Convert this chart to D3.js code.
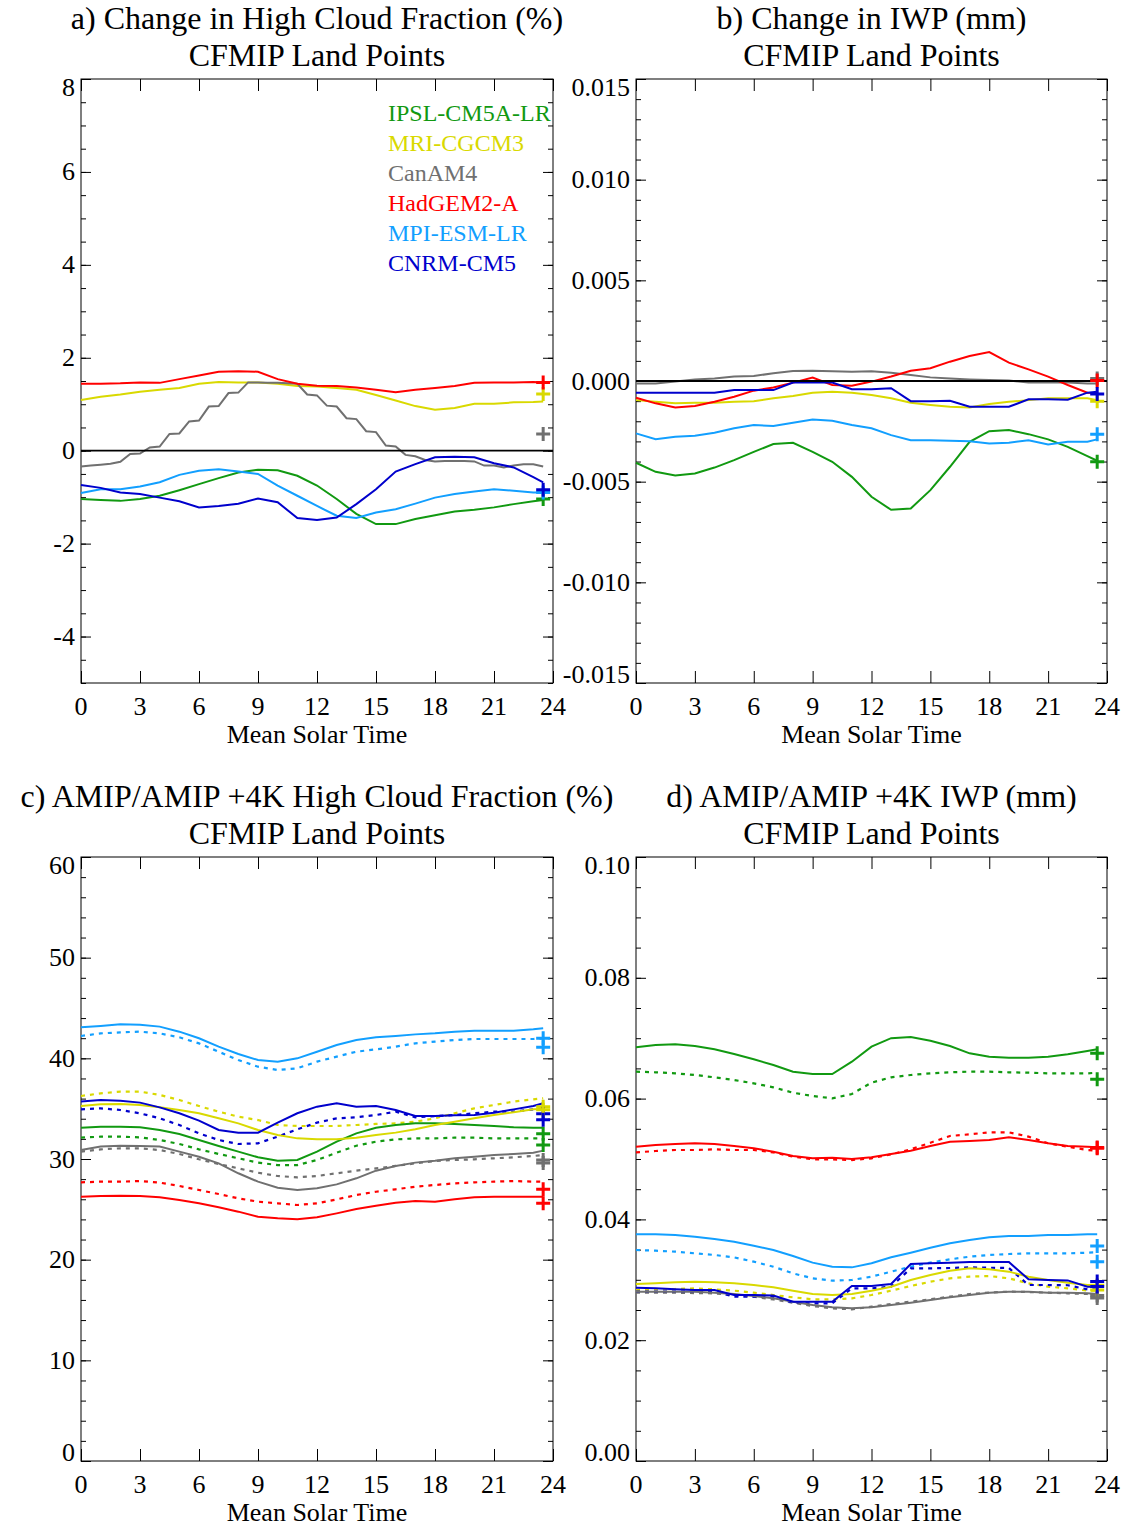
<!DOCTYPE html>
<html>
<head>
<meta charset="utf-8">
<script src="https://cdn.jsdelivr.net/npm/d3@7"></script>
<style>
  html, body { margin: 0; padding: 0; background: #fff; }
  svg { display: block; }
  text { font-family: "Liberation Serif", "Times New Roman", serif; }
</style>
</head>
<body>
<svg id="chart" width="1127" height="1528"></svg>
<script>
// ---------------- DATA ----------------
const models = ["IPSL-CM5A-LR", "MRI-CGCM3", "CanAM4", "HadGEM2-A", "MPI-ESM-LR", "CNRM-CM5"];
const modelColors = ["#119911", "#d9d900", "#707070", "#ff0000", "#129fff", "#0000cc"];

const hours = [0,1,2,3,4,5,6,7,8,9,10,11,12,13,14,15,16,17,18,19,20,21,22,23,23.5];
const halfHours = [0,0.5,1,1.5,2,2.5,3,3.5,4,4.5,5,5.5,6,6.5,7,7.5,8,8.5,9,9.5,10,10.5,11,11.5,
                   12,12.5,13,13.5,14,14.5,15,15.5,16,16.5,17,17.5,18,18.5,19,19.5,20,20.5,21,21.5,22,22.5,23,23.5];
const markerHour = 23.5;
const xTicks = [0,3,6,9,12,15,18,21,24];

// a) Change in high cloud fraction (%)
const a_IPSL  = [-1.04,-1.06,-1.08,-1.04,-0.97,-0.85,-0.72,-0.59,-0.47,-0.41,-0.42,-0.54,-0.75,-1.04,-1.36,-1.58,-1.58,-1.47,-1.39,-1.31,-1.27,-1.22,-1.15,-1.09,-1.06];
const a_MRI   = [1.09,1.16,1.21,1.27,1.31,1.35,1.44,1.48,1.47,1.47,1.44,1.39,1.38,1.35,1.31,1.20,1.08,0.96,0.88,0.92,1.01,1.01,1.04,1.05,1.06];
const a_CanAM4 = [-0.34,-0.32,-0.30,-0.28,-0.24,-0.07,-0.06,0.07,0.09,0.36,0.37,0.63,0.65,0.95,0.96,1.24,
                  1.25,1.47,1.47,1.46,1.46,1.45,1.44,1.21,1.19,0.97,0.95,0.70,0.68,0.42,0.40,0.11,
                  0.09,-0.09,-0.12,-0.20,-0.23,-0.22,-0.22,-0.22,-0.23,-0.32,-0.32,-0.36,-0.32,-0.29,-0.29,-0.34];
const a_HadGEM = [1.44,1.44,1.45,1.47,1.46,1.54,1.62,1.70,1.71,1.70,1.54,1.44,1.40,1.39,1.36,1.31,1.26,1.31,1.35,1.39,1.46,1.47,1.47,1.48,1.47];
const a_MPI   = [-0.91,-0.83,-0.83,-0.77,-0.68,-0.52,-0.43,-0.40,-0.45,-0.50,-0.75,-0.97,-1.19,-1.40,-1.45,-1.33,-1.26,-1.14,-1.01,-0.93,-0.88,-0.83,-0.86,-0.90,-0.90];
const a_CNRM  = [-0.74,-0.80,-0.90,-0.93,-1.01,-1.09,-1.22,-1.19,-1.14,-1.03,-1.11,-1.45,-1.49,-1.44,-1.15,-0.83,-0.45,-0.29,-0.14,-0.13,-0.14,-0.27,-0.36,-0.57,-0.68];
const a_markers = [-1.04, 1.22, 0.36, 1.47, -0.90, -0.84];

// b) Change in IWP (mm)
const b_IPSL  = [-0.00406,-0.00451,-0.00469,-0.00459,-0.00430,-0.00393,-0.00352,-0.00313,-0.00307,-0.00352,-0.00401,-0.00476,-0.00575,-0.00640,-0.00633,-0.00542,-0.00426,-0.00302,-0.00249,-0.00244,-0.00264,-0.00290,-0.00327,-0.00373,-0.00396];
const b_MRI   = [-0.00095,-0.00103,-0.00111,-0.00108,-0.00108,-0.00103,-0.00100,-0.00086,-0.00075,-0.00058,-0.00053,-0.00058,-0.00070,-0.00086,-0.00108,-0.00119,-0.00128,-0.00131,-0.00114,-0.00103,-0.00095,-0.00086,-0.00086,-0.00086,-0.00095];
const b_CanAM4 = [-0.00012,-0.00012,-0.00003,0.00008,0.00013,0.00022,0.00025,0.00038,0.00050,0.00051,0.00048,0.00046,0.00048,0.00041,0.00030,0.00018,0.00013,0.00008,0.00005,0.00002,-0.00008,-0.00008,-0.00007,-0.00012,-0.00012];
const b_HadGEM = [-0.00083,-0.00111,-0.00131,-0.00124,-0.00103,-0.00078,-0.00048,-0.00032,-0.00008,0.00017,-0.00020,-0.00023,-0.00003,0.00022,0.00051,0.00063,0.00096,0.00124,0.00144,0.00091,0.00058,0.00022,-0.00020,-0.00058,-0.00061];
const b_MPI   = [-0.00260,-0.00289,-0.00277,-0.00272,-0.00257,-0.00235,-0.00219,-0.00224,-0.00207,-0.00191,-0.00197,-0.00219,-0.00235,-0.00269,-0.00294,-0.00294,-0.00297,-0.00299,-0.00310,-0.00307,-0.00294,-0.00315,-0.00302,-0.00302,-0.00290];
const b_CNRM  = [-0.00058,-0.00058,-0.00058,-0.00058,-0.00058,-0.00045,-0.00045,-0.00045,-0.00008,-0.00008,-0.00008,-0.00041,-0.00041,-0.00036,-0.00100,-0.00100,-0.00098,-0.00128,-0.00128,-0.00128,-0.00091,-0.00091,-0.00093,-0.00058,-0.00053];
const b_markers = [-0.00401, -0.00100, 0.00012, 0.00002, -0.00264, -0.00065];

// c) AMIP (solid) / AMIP +4K (dotted) high cloud fraction (%)
const c_IPSL   = [33.11,33.21,33.21,33.15,32.88,32.48,31.89,31.29,30.73,30.17,29.83,29.90,30.73,31.72,32.55,33.11,33.38,33.54,33.54,33.48,33.38,33.28,33.15,33.11,33.11];
const c_IPSL4K = [32.12,32.22,32.22,32.15,31.89,31.49,30.96,30.50,30.07,29.64,29.40,29.40,29.90,30.63,31.32,31.72,31.95,32.05,32.05,32.12,32.12,32.05,32.05,32.05,32.05];
const c_MRI    = [35.26,35.43,35.46,35.36,35.13,34.87,34.54,34.04,33.54,32.88,32.38,32.05,31.95,31.95,32.12,32.38,32.62,32.95,33.38,33.71,34.04,34.37,34.64,34.93,34.97];
const c_MRI4K  = [36.26,36.52,36.69,36.69,36.36,35.86,35.26,34.70,34.21,33.87,33.38,33.28,33.28,33.28,33.38,33.48,33.54,33.71,34.04,34.54,35.03,35.36,35.70,35.93,36.03];
const c_CanAM4   = [30.89,31.23,31.32,31.29,31.23,30.73,30.23,29.57,28.58,27.75,27.15,26.92,27.09,27.48,28.08,28.84,29.31,29.64,29.83,30.07,30.23,30.40,30.50,30.63,30.83];
const c_CanAM44K = [30.73,30.96,31.06,31.06,30.89,30.50,29.97,29.50,29.07,28.64,28.31,28.18,28.31,28.58,28.84,29.07,29.31,29.57,29.80,29.90,29.97,30.07,30.17,30.30,30.40];
const c_HadGEM   = [26.26,26.32,26.36,26.32,26.19,25.93,25.60,25.20,24.77,24.27,24.11,24.01,24.21,24.60,25.03,25.36,25.66,25.83,25.76,25.99,26.19,26.26,26.26,26.26,26.26];
const c_HadGEM4K = [27.68,27.75,27.75,27.81,27.65,27.32,26.92,26.52,26.09,25.76,25.60,25.43,25.60,25.99,26.42,26.75,26.99,27.25,27.42,27.58,27.68,27.75,27.81,27.75,27.75];
const c_MPI    = [43.08,43.21,43.38,43.34,43.15,42.65,41.99,41.16,40.43,39.83,39.67,40.00,40.66,41.32,41.82,42.09,42.22,42.38,42.48,42.65,42.75,42.75,42.75,42.88,42.98];
const c_MPI4K  = [42.22,42.48,42.58,42.65,42.48,42.09,41.49,40.66,39.83,39.17,38.84,39.01,39.67,40.17,40.66,40.89,41.16,41.49,41.66,41.82,41.92,41.92,41.92,41.92,41.99];
const c_CNRM   = [35.70,35.86,35.79,35.60,35.13,34.54,33.81,32.88,32.62,32.62,33.61,34.54,35.20,35.53,35.20,35.26,34.87,34.27,34.27,34.34,34.37,34.60,34.93,35.26,35.53];
const c_CNRM4K = [34.93,35.03,34.87,34.54,34.04,33.38,32.55,31.89,31.49,31.56,32.22,32.95,33.61,34.04,34.14,34.37,34.70,34.14,34.27,34.37,34.54,34.70,34.70,34.93,35.03];
const c_markers   = [32.5, 35.2, 29.9, 27.0, 42.0, 34.5];
const c_markers4K = [31.4, 34.9, 29.6, 25.6, 41.1, 33.9];

// d) AMIP (solid) / AMIP +4K (dotted) IWP (mm)
const d_IPSL   = [0.06849,0.06887,0.06898,0.06871,0.06816,0.06738,0.06650,0.06556,0.06446,0.06407,0.06407,0.06611,0.06860,0.07000,0.07020,0.06959,0.06871,0.06749,0.06694,0.06678,0.06678,0.06694,0.06733,0.06788,0.06816];
const d_IPSL4K = [0.06446,0.06435,0.06418,0.06391,0.06352,0.06308,0.06253,0.06187,0.06098,0.06043,0.06004,0.06076,0.06264,0.06352,0.06391,0.06418,0.06435,0.06446,0.06446,0.06435,0.06429,0.06418,0.06418,0.06418,0.06429];
const d_MRI    = [0.02930,0.02942,0.02958,0.02969,0.02958,0.02942,0.02914,0.02875,0.02820,0.02765,0.02748,0.02765,0.02820,0.02886,0.02997,0.03079,0.03151,0.03190,0.03173,0.03135,0.03052,0.02997,0.02953,0.02914,0.02914];
const d_MRI4K  = [0.02831,0.02842,0.02848,0.02859,0.02842,0.02820,0.02787,0.02748,0.02710,0.02677,0.02677,0.02693,0.02748,0.02820,0.02897,0.02969,0.03024,0.03052,0.03063,0.03024,0.02942,0.02886,0.02859,0.02820,0.02820];
const d_CanAM4   = [0.02804,0.02804,0.02804,0.02804,0.02787,0.02765,0.02732,0.02693,0.02638,0.02583,0.02544,0.02528,0.02544,0.02583,0.02621,0.02666,0.02710,0.02748,0.02787,0.02804,0.02804,0.02787,0.02787,0.02776,0.02765];
const d_CanAM44K = [0.02787,0.02787,0.02787,0.02780,0.02776,0.02750,0.02721,0.02675,0.02621,0.02566,0.02528,0.02511,0.02555,0.02599,0.02638,0.02677,0.02721,0.02765,0.02787,0.02804,0.02798,0.02787,0.02776,0.02765,0.02748];
const d_HadGEM   = [0.05204,0.05232,0.05248,0.05259,0.05248,0.05215,0.05177,0.05121,0.05050,0.05011,0.05022,0.05000,0.05028,0.05083,0.05138,0.05215,0.05287,0.05298,0.05315,0.05359,0.05315,0.05259,0.05215,0.05204,0.05193];
const d_HadGEM4K = [0.05110,0.05132,0.05149,0.05149,0.05160,0.05149,0.05149,0.05110,0.05039,0.04994,0.04994,0.04983,0.05011,0.05077,0.05160,0.05270,0.05381,0.05408,0.05442,0.05442,0.05370,0.05259,0.05204,0.05149,0.05138];
const d_MPI    = [0.03753,0.03753,0.03742,0.03714,0.03675,0.03631,0.03565,0.03493,0.03394,0.03284,0.03217,0.03206,0.03273,0.03372,0.03449,0.03532,0.03604,0.03659,0.03703,0.03725,0.03725,0.03742,0.03742,0.03753,0.03753];
const d_MPI4K  = [0.03493,0.03482,0.03466,0.03438,0.03411,0.03372,0.03300,0.03217,0.03107,0.03024,0.02986,0.02997,0.03052,0.03135,0.03217,0.03284,0.03339,0.03383,0.03411,0.03427,0.03438,0.03438,0.03438,0.03449,0.03455];
const d_CNRM   = [0.02870,0.02859,0.02842,0.02831,0.02831,0.02748,0.02748,0.02740,0.02638,0.02638,0.02638,0.02897,0.02897,0.02930,0.03262,0.03273,0.03284,0.03295,0.03295,0.03295,0.03008,0.02997,0.02990,0.02886,0.02886];
const d_CNRM4K = [0.02804,0.02804,0.02804,0.02804,0.02804,0.02721,0.02721,0.02715,0.02621,0.02610,0.02610,0.02859,0.02859,0.02886,0.03190,0.03190,0.03195,0.03206,0.03200,0.03195,0.02914,0.02914,0.02910,0.02842,0.02842];
const d_markers   = [0.0675, 0.0291, 0.0274, 0.0519, 0.0356, 0.0297];
const d_markers4K = [0.0632, 0.0283, 0.0270, 0.0518, 0.0330, 0.0289];

// tick values
const a_yTicks = [-4,-2,0,2,4,6,8];
const b_yTicks = [-0.015,-0.010,-0.005,0,0.005,0.010,0.015];
const c_yTicks = [0,10,20,30,40,50,60];
const d_yTicks = [0,0.02,0.04,0.06,0.08,0.10];

// ---------------- LAYOUT / DRAWING ----------------
const svg = d3.select("#chart");

function minorTicks(lo, hi, step) {
  const out = [];
  const n = Math.round((hi - lo) / step);
  for (let i = 0; i <= n; i++) out.push(lo + i * step);
  return out;
}

const panels = [
  { left: 81, right: 553, top: 79, bottom: 683, domain: [-5, 8],
    title: ["a) Change in High Cloud Fraction (%)", "CFMIP Land Points"],
    yTicks: a_yTicks, minorStep: 0.5, fmt: v => String(v), zeroLine: true, legend: true,
    solid: [[hours, a_IPSL],[hours, a_MRI],[halfHours, a_CanAM4],[hours, a_HadGEM],[hours, a_MPI],[hours, a_CNRM]],
    dotted: null, markers: [a_markers] },
  { left: 636, right: 1107, top: 79, bottom: 683, domain: [-0.015, 0.015],
    title: ["b) Change in IWP (mm)", "CFMIP Land Points"],
    yTicks: b_yTicks, minorStep: 0.001, fmt: v => v.toFixed(3), zeroLine: true,
    solid: [[hours, b_IPSL],[hours, b_MRI],[hours, b_CanAM4],[hours, b_HadGEM],[hours, b_MPI],[hours, b_CNRM]],
    dotted: null, markers: [b_markers] },
  { left: 81, right: 553, top: 857, bottom: 1461, domain: [0, 60],
    title: ["c) AMIP/AMIP +4K High Cloud Fraction (%)", "CFMIP Land Points"],
    yTicks: c_yTicks, minorStep: 2, fmt: v => String(v),
    solid: [[hours, c_IPSL],[hours, c_MRI],[hours, c_CanAM4],[hours, c_HadGEM],[hours, c_MPI],[hours, c_CNRM]],
    dotted: [[hours, c_IPSL4K],[hours, c_MRI4K],[hours, c_CanAM44K],[hours, c_HadGEM4K],[hours, c_MPI4K],[hours, c_CNRM4K]],
    markers: [c_markers, c_markers4K] },
  { left: 636, right: 1107, top: 857, bottom: 1461, domain: [0, 0.10],
    title: ["d) AMIP/AMIP +4K IWP (mm)", "CFMIP Land Points"],
    yTicks: d_yTicks, minorStep: 0.005, fmt: v => v.toFixed(2),
    solid: [[hours, d_IPSL],[hours, d_MRI],[hours, d_CanAM4],[hours, d_HadGEM],[hours, d_MPI],[hours, d_CNRM]],
    dotted: [[hours, d_IPSL4K],[hours, d_MRI4K],[hours, d_CanAM44K],[hours, d_HadGEM4K],[hours, d_MPI4K],[hours, d_CNRM4K]],
    markers: [d_markers, d_markers4K] }
];

panels.forEach(p => {
  const g = svg.append("g");
  const x = d3.scaleLinear().domain([0, 24]).range([p.left, p.right]);
  const y = d3.scaleLinear().domain(p.domain).range([p.bottom, p.top]);
  const cx = (p.left + p.right) / 2;

  // titles (two lines)
  g.append("text").attr("x", cx).attr("y", p.top - 50).attr("text-anchor", "middle")
    .attr("font-size", 32).text(p.title[0]);
  g.append("text").attr("x", cx).attr("y", p.top - 13).attr("text-anchor", "middle")
    .attr("font-size", 32).text(p.title[1]);

  const minors = minorTicks(p.domain[0], p.domain[1], p.minorStep);

  function styleAxis(sel) {
    sel.select(".domain").remove();
    sel.selectAll("line").attr("stroke", "#000").attr("stroke-width", 1);
  }
  // x axes (bottom + top), ticks pointing inward
  g.append("g").attr("transform", `translate(0,${p.bottom})`)
    .call(d3.axisBottom(x).tickValues(xTicks).tickSize(-12).tickFormat("")).call(styleAxis);
  g.append("g").attr("transform", `translate(0,${p.top})`)
    .call(d3.axisTop(x).tickValues(xTicks).tickSize(-12).tickFormat("")).call(styleAxis);
  // y axes (left + right), major and minor
  g.append("g").attr("transform", `translate(${p.left},0)`)
    .call(d3.axisLeft(y).tickValues(minors).tickSize(-5).tickFormat("")).call(styleAxis);
  g.append("g").attr("transform", `translate(${p.left},0)`)
    .call(d3.axisLeft(y).tickValues(p.yTicks).tickSize(-10).tickFormat("")).call(styleAxis);
  g.append("g").attr("transform", `translate(${p.right},0)`)
    .call(d3.axisRight(y).tickValues(minors).tickSize(-5).tickFormat("")).call(styleAxis);
  g.append("g").attr("transform", `translate(${p.right},0)`)
    .call(d3.axisRight(y).tickValues(p.yTicks).tickSize(-10).tickFormat("")).call(styleAxis);

  // frame
  g.append("rect").attr("x", p.left).attr("y", p.top)
    .attr("width", p.right - p.left).attr("height", p.bottom - p.top)
    .attr("fill", "none").attr("stroke", "#000").attr("stroke-width", 1);

  // x tick labels + title
  xTicks.forEach(t => {
    g.append("text").attr("x", x(t)).attr("y", p.bottom + 32).attr("text-anchor", "middle")
      .attr("font-size", 26).text(t);
  });
  g.append("text").attr("x", cx).attr("y", p.bottom + 60).attr("text-anchor", "middle")
    .attr("font-size", 26).text("Mean Solar Time");

  // y tick labels (end labels kept inside the frame height)
  p.yTicks.forEach(t => {
    let by = y(t) + 8.5;
    by = Math.max(by, p.top + 17);
    by = Math.min(by, p.bottom);
    g.append("text").attr("x", p.left - 6).attr("y", by).attr("text-anchor", "end")
      .attr("font-size", 26).text(p.fmt(t));
  });

  const line = d3.line().x(d => x(d[0])).y(d => y(d[1]));

  // dotted (+4K) lines
  if (p.dotted) {
    p.dotted.forEach((s, i) => {
      const pts = s[0].map((h, k) => [h, s[1][k]]);
      g.append("path").attr("d", line(pts)).attr("fill", "none")
        .attr("stroke", modelColors[i]).attr("stroke-width", 2.2)
        .attr("stroke-dasharray", "4,5");
    });
  }
  // solid lines
  p.solid.forEach((s, i) => {
    const pts = s[0].map((h, k) => [h, s[1][k]]);
    g.append("path").attr("d", line(pts)).attr("fill", "none")
      .attr("stroke", modelColors[i]).attr("stroke-width", 2);
  });

  // zero line
  if (p.zeroLine) {
    g.append("line").attr("x1", p.left).attr("x2", p.right)
      .attr("y1", y(0)).attr("y2", y(0)).attr("stroke", "#000").attr("stroke-width", 1.8);
  }

  // "+" markers
  p.markers.forEach(arr => {
    arr.forEach((v, i) => {
      const mx = x(markerHour), my = y(v), r = 7;
      g.append("path").attr("d", `M${mx - r},${my}H${mx + r}M${mx},${my - r}V${my + r}`)
        .attr("stroke", modelColors[i]).attr("stroke-width", 3).attr("fill", "none");
    });
  });

  // legend
  if (p.legend) {
    models.forEach((m, i) => {
      g.append("text").attr("x", 388).attr("y", 121 + i * 30).attr("font-size", 24)
        .attr("fill", modelColors[i]).text(m);
    });
  }
});
</script>
</body>
</html>
